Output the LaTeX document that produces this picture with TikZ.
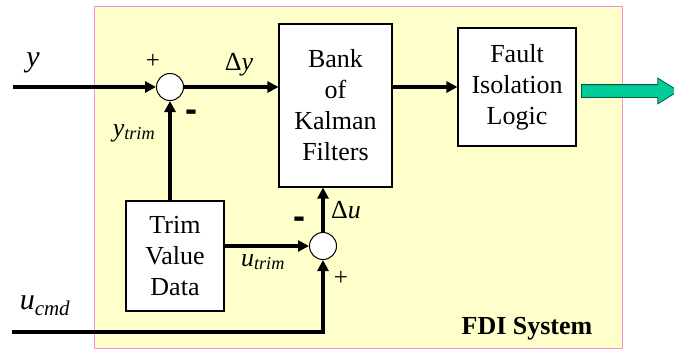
\documentclass[tikz,border=0pt]{standalone}
\usepackage{fontspec}
\setmainfont{Liberation Serif}
\newfontfamily\signfont{Liberation Sans}
\usetikzlibrary{arrows.meta,positioning,shapes.arrows}

\definecolor{fdifill}{RGB}{255,255,204}
\definecolor{fdiborder}{RGB}{255,140,205}
\definecolor{outfill}{RGB}{0,204,153}
\definecolor{outborder}{RGB}{0,90,70}

\begin{document}
\begin{tikzpicture}[
  x=1pt, y=-1pt,
  block/.style={draw, line width=1.1pt, fill=white, align=center, inner sep=0pt,
    font=\fontsize{26}{31}\selectfont},
  sumnode/.style={draw, circle, line width=1pt, fill=white, minimum size=27pt, inner sep=0pt},
  sig/.style={line width=3.4pt, -{Triangle[length=11pt,width=11pt]}},
  biglbl/.style={inner sep=0pt, font=\fontsize{30}{30}\selectfont\itshape},
  lbl/.style={inner sep=0pt, font=\fontsize{26}{26}\selectfont},
  plus/.style={inner sep=0pt, font=\fontsize{25}{25}\selectfont},
  minus/.style={inner sep=0pt, font=\signfont\bfseries\fontsize{36}{36}\selectfont},
]
\useasboundingbox (0,0) rectangle (674,351);

% FDI system frame
\node[draw=fdiborder, fill=fdifill, line width=1pt, minimum width=528pt, minimum height=342pt,
  inner sep=0pt] (fdi) at (358,177) {};
\node[inner sep=0pt, font=\fontsize{26}{26}\selectfont\bfseries] (fdilbl) at (527,329) {FDI System};

% blocks
\node[block, minimum width=113pt, minimum height=163pt] (kalman) at (335.5,105.5)
  {Bank\\of\\Kalman\\Filters};
\node[block, minimum width=118pt, minimum height=118pt] (fault) at (517,87)
  {Fault\\Isolation\\Logic};
\node[block, minimum width=98pt, minimum height=110pt] (trim) at (175,256)
  {Trim\\Value\\Data};

% summing junctions
\node[sumnode] (sum1) at (170,87) {};
\node[sumnode] (sum2) at (323,246) {};

% free ends of the inputs
\coordinate (yin) at (13,87);
\coordinate (ucmdin) at (12,332);

% output arrow
\node[single arrow, draw=outborder, fill=outfill, line width=0.8pt, inner sep=6pt,
  minimum height=97pt, single arrow head extend=6.5pt, single arrow tip angle=64,
  anchor=west] (out) at (581,91) {};

% signals
\draw[sig] (yin) -- (sum1.west);
\draw[sig] (sum1.east) -- (sum1 -| kalman.west);
\draw[sig] (sum1 |- trim.north) -- (sum1.south);
\draw[sig] (trim.east |- sum2.west) -- (sum2.west);
\draw[sig, line join=miter] (ucmdin) -| (sum2.south);
\draw[sig] (sum2.north) -- (sum2 |- kalman.south);
\draw[sig] (kalman.east |- fault.west) -- (fault.west);

% labels
\node[biglbl] (ylbl) at (33,63) {y};
\node[plus] (p1) at (153,61) {+};
\node[lbl] (dylbl) at (239,65) {Δ\textit{y}};
\node[minus] (m1) at (191,116) {-};
\node[lbl] (ytrimlbl) at (134,133) {\textit{y}\textsubscript{\textit{trim}}};
\node[lbl] (dulbl) at (346,210) {Δ\textit{u}};
\node[minus] (m2) at (299,223) {-};
\node[lbl] (utrimlbl) at (263,262) {\textit{u}\textsubscript{\textit{trim}}};
\node[plus] (p2) at (341,278) {+};
\node[biglbl] (ucmdlbl) at (45,306) {u\textsubscript{cmd}};

\end{tikzpicture}
\end{document}
